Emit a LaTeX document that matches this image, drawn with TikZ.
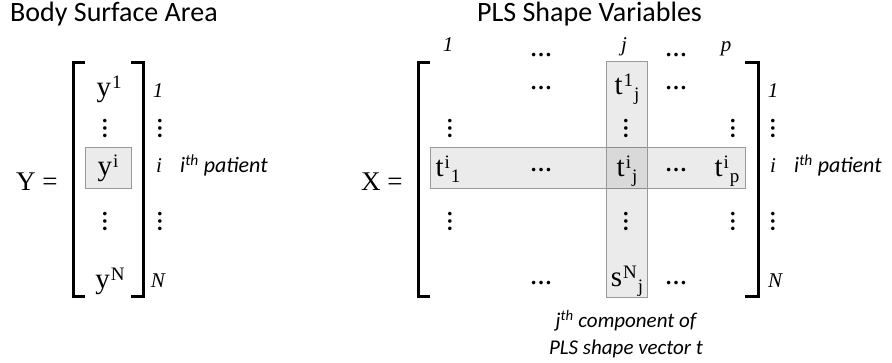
\documentclass[tikz,border=0pt]{standalone}
\usepackage{fontspec}
\setmainfont{Carlito}
\newfontfamily\mathserif{Liberation Serif}
\usetikzlibrary{positioning}

\newcommand{\up}[1]{\kern1pt\raisebox{8.5pt}{\fontsize{19}{19}\selectfont #1}}
\newcommand{\dn}[1]{\kern1pt\raisebox{-6pt}{\fontsize{19}{19}\selectfont #1}}
\newcommand{\nth}[1]{\textit{#1}\textsuperscript{\textit{th}}}

\begin{document}
\begin{tikzpicture}[x=1pt, y=-1pt,
    ttl/.style={font=\fontsize{28}{32}\selectfont, inner sep=0, anchor=base west},
    ent/.style={font=\mathserif\fontsize{29}{32}\selectfont, inner sep=0, anchor=base},
    dts/.style={font=\mathserif\bfseries\fontsize{22}{22}\selectfont, inner sep=0},
    vdts/.style={dts, rotate=90},
    idx/.style={font=\mathserif\itshape\fontsize{21}{24}\selectfont, inner sep=0, anchor=base},
    note/.style={font=\itshape\fontsize{21}{27}\selectfont, inner sep=0, align=center},
    brk/.style={line width=3pt},
    band/.style={draw=black!40, line width=1pt, fill=black, fill opacity=0.08}
  ]
  \useasboundingbox (0,0) rectangle (892,363);

  % Highlights
  \draw[band] (85,148) rectangle (131,189);
  \draw[band] (430,148) rectangle (745,189);
  \draw[band] (606,62) rectangle (647,298);

  % Titles
  \node[ttl] (bsa) at (10,22) {Body Surface Area};
  \node[ttl] (pls) at (477,22) {PLS Shape Variables};

  % Y vector
  \node[ent, font=\mathserif\fontsize{27}{30}\selectfont, anchor=base west] (yeq) at (16,191) {Y =};
  \draw[brk] (85,63) -- (73.5,63) -- (73.5,297) -- (85,297);
  \draw[brk] (131,63) -- (143.5,63) -- (143.5,297) -- (131,297);
  \node[ent] (y1) at (109,97) {y\up{1}};
  \node[vdts] (yd1) at (105,129) {…};
  \node[ent] (yi) at (108,176) {y\up{i}};
  \node[vdts] (yd2) at (105,222) {…};
  \node[ent] (yN) at (110,289) {y\up{N}};

  % Y rows
  \node[idx] (yr1) at (158,98) {1};
  \node[vdts] (yrd1) at (160,129) {…};
  \node[idx] (yri) at (159,173) {i};
  \node[vdts] (yrd2) at (160,222) {…};
  \node[idx] (yrN) at (158,288) {N};
  \node[note, font=\itshape\fontsize{22}{26}\selectfont, anchor=base west] (ypat) at (180,173) {\nth{i} patient};

  % X matrix
  \node[ent, font=\mathserif\fontsize{27}{30}\selectfont, anchor=base west] (xeq) at (361,191) {X =};
  \draw[brk] (430,63) -- (418.5,63) -- (418.5,297) -- (430,297);
  \draw[brk] (745,63) -- (758.5,63) -- (758.5,297) -- (745,297);

  % X columns
  \node[idx] (xc1) at (448,52) {1};
  \node[dts] (xcd1) at (541,55) {…};
  \node[idx] (xcj) at (624,52) {j};
  \node[dts] (xcd2) at (676,55) {…};
  \node[idx] (xcp) at (726,52) {p};

  % X entries
  \node[dts] (x12) at (541,88) {…};
  \node[ent] (x1j) at (627,95) {t\up{1}\dn{j}};
  \node[dts] (x14) at (676,88) {…};
  \node[vdts] (x21) at (450,129) {…};
  \node[vdts] (x2j) at (626,129) {…};
  \node[vdts] (x2p) at (733,129) {…};
  \node[ent] (xi1) at (448,177) {t\up{i}\dn{1}};
  \node[dts] (xi2) at (541,170) {…};
  \node[ent] (xij) at (627,177) {t\up{i}\dn{j}};
  \node[dts] (xi4) at (676,170) {…};
  \node[ent] (xip) at (727,177) {t\up{i}\dn{p}};
  \node[vdts] (x41) at (450,222) {…};
  \node[vdts] (x4j) at (626,222) {…};
  \node[vdts] (x4p) at (733,222) {…};
  \node[dts] (xN2) at (541,283) {…};
  \node[ent] (xNj) at (627,287) {s\up{N}\dn{j}};
  \node[dts] (xN4) at (676,283) {…};

  % X rows
  \node[idx] (xr1) at (773,98) {1};
  \node[vdts] (xrd1) at (773,129) {…};
  \node[idx] (xri) at (773,173) {i};
  \node[vdts] (xrd2) at (773,222) {…};
  \node[idx] (xrN) at (775,288) {N};
  \node[note, font=\itshape\fontsize{22}{26}\selectfont, anchor=base west] (xpat) at (794,173) {\nth{i} patient};

  % Caption
  \node[note] (cap) at (626,334) {\nth{j} component of\\PLS shape vector t};
\end{tikzpicture}
\end{document}
